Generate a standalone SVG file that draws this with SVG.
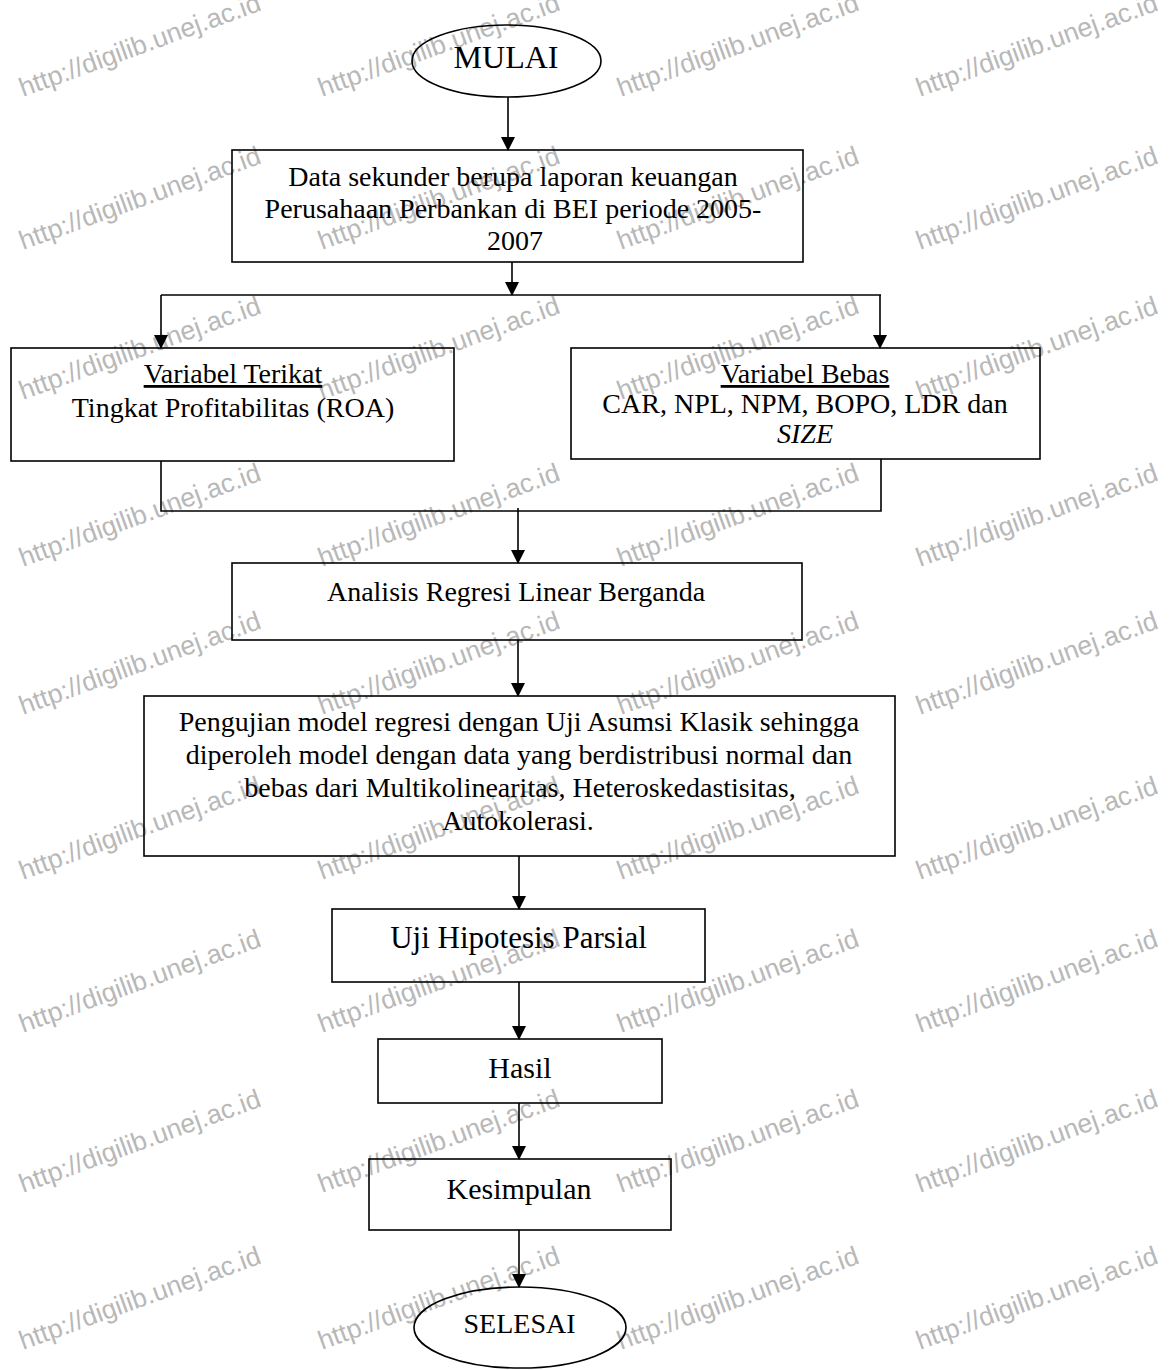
<svg xmlns="http://www.w3.org/2000/svg" width="1175" height="1370" viewBox="0 0 1175 1370">
<style>
.wm{font-family:"Liberation Sans",Arial,sans-serif;font-size:26.5px;fill:#b8b8b8}
.box{fill:none;stroke:#000;stroke-width:1.6}
.t{font-family:"Liberation Serif","Times New Roman",serif;font-size:28px;fill:#000;text-anchor:middle}
.big{font-size:30px}
.con{fill:none;stroke:#000;stroke-width:1.6}
.arr{marker-end:url(#ah)}
</style>
<defs>
<marker id="ah" markerUnits="userSpaceOnUse" markerWidth="14" markerHeight="14" refX="13" refY="7" orient="auto" viewBox="0 0 14 14">
<path d="M0,0 L14,7 L0,14 z" fill="#000"/>
</marker>
</defs>
<rect width="1175" height="1370" fill="#fff"/>
<g id="watermarks">
<text class="wm" x="23" y="97" transform="rotate(-20 23 97)">http://digilib.unej.ac.id</text>
<text class="wm" x="322" y="97" transform="rotate(-20 322 97)">http://digilib.unej.ac.id</text>
<text class="wm" x="621" y="97" transform="rotate(-20 621 97)">http://digilib.unej.ac.id</text>
<text class="wm" x="920" y="97" transform="rotate(-20 920 97)">http://digilib.unej.ac.id</text>
<text class="wm" x="23" y="250" transform="rotate(-20 23 250)">http://digilib.unej.ac.id</text>
<text class="wm" x="322" y="250" transform="rotate(-20 322 250)">http://digilib.unej.ac.id</text>
<text class="wm" x="621" y="250" transform="rotate(-20 621 250)">http://digilib.unej.ac.id</text>
<text class="wm" x="920" y="250" transform="rotate(-20 920 250)">http://digilib.unej.ac.id</text>
<text class="wm" x="23" y="400" transform="rotate(-20 23 400)">http://digilib.unej.ac.id</text>
<text class="wm" x="322" y="400" transform="rotate(-20 322 400)">http://digilib.unej.ac.id</text>
<text class="wm" x="621" y="400" transform="rotate(-20 621 400)">http://digilib.unej.ac.id</text>
<text class="wm" x="920" y="400" transform="rotate(-20 920 400)">http://digilib.unej.ac.id</text>
<text class="wm" x="23" y="567" transform="rotate(-20 23 567)">http://digilib.unej.ac.id</text>
<text class="wm" x="322" y="567" transform="rotate(-20 322 567)">http://digilib.unej.ac.id</text>
<text class="wm" x="621" y="567" transform="rotate(-20 621 567)">http://digilib.unej.ac.id</text>
<text class="wm" x="920" y="567" transform="rotate(-20 920 567)">http://digilib.unej.ac.id</text>
<text class="wm" x="23" y="715" transform="rotate(-20 23 715)">http://digilib.unej.ac.id</text>
<text class="wm" x="322" y="715" transform="rotate(-20 322 715)">http://digilib.unej.ac.id</text>
<text class="wm" x="621" y="715" transform="rotate(-20 621 715)">http://digilib.unej.ac.id</text>
<text class="wm" x="920" y="715" transform="rotate(-20 920 715)">http://digilib.unej.ac.id</text>
<text class="wm" x="23" y="880" transform="rotate(-20 23 880)">http://digilib.unej.ac.id</text>
<text class="wm" x="322" y="880" transform="rotate(-20 322 880)">http://digilib.unej.ac.id</text>
<text class="wm" x="621" y="880" transform="rotate(-20 621 880)">http://digilib.unej.ac.id</text>
<text class="wm" x="920" y="880" transform="rotate(-20 920 880)">http://digilib.unej.ac.id</text>
<text class="wm" x="23" y="1033" transform="rotate(-20 23 1033)">http://digilib.unej.ac.id</text>
<text class="wm" x="322" y="1033" transform="rotate(-20 322 1033)">http://digilib.unej.ac.id</text>
<text class="wm" x="621" y="1033" transform="rotate(-20 621 1033)">http://digilib.unej.ac.id</text>
<text class="wm" x="920" y="1033" transform="rotate(-20 920 1033)">http://digilib.unej.ac.id</text>
<text class="wm" x="23" y="1193" transform="rotate(-20 23 1193)">http://digilib.unej.ac.id</text>
<text class="wm" x="322" y="1193" transform="rotate(-20 322 1193)">http://digilib.unej.ac.id</text>
<text class="wm" x="621" y="1193" transform="rotate(-20 621 1193)">http://digilib.unej.ac.id</text>
<text class="wm" x="920" y="1193" transform="rotate(-20 920 1193)">http://digilib.unej.ac.id</text>
<text class="wm" x="23" y="1350" transform="rotate(-20 23 1350)">http://digilib.unej.ac.id</text>
<text class="wm" x="322" y="1350" transform="rotate(-20 322 1350)">http://digilib.unej.ac.id</text>
<text class="wm" x="621" y="1350" transform="rotate(-20 621 1350)">http://digilib.unej.ac.id</text>
<text class="wm" x="920" y="1350" transform="rotate(-20 920 1350)">http://digilib.unej.ac.id</text>
</g>
<g id="connectors">
<line class="con arr" x1="508" y1="97" x2="508" y2="150"/>
<line class="con arr" x1="512" y1="262" x2="512" y2="295"/>
<line class="con" x1="161" y1="295" x2="881" y2="295"/>
<line class="con arr" x1="161" y1="295" x2="161" y2="348"/>
<line class="con arr" x1="880" y1="295" x2="880" y2="348"/>
<polyline class="con" points="161,461 161,511 881,511 881,459"/>
<line class="con arr" x1="518" y1="508" x2="518" y2="563"/>
<line class="con arr" x1="518" y1="640" x2="518" y2="696"/>
<line class="con arr" x1="519" y1="856" x2="519" y2="909"/>
<line class="con arr" x1="519" y1="982" x2="519" y2="1039"/>
<line class="con arr" x1="519" y1="1103" x2="519" y2="1159"/>
<line class="con arr" x1="519" y1="1230" x2="519" y2="1287"/>
</g>
<g id="mulai">
<ellipse class="box" cx="506.5" cy="61" rx="94.5" ry="36"/>
<text class="t" x="506" y="68" style="font-size:32px">MULAI</text>
</g>
<g id="data">
<rect class="box" x="232" y="150" width="571" height="112"/>
<text class="t" x="513" y="186">Data sekunder berupa laporan keuangan</text>
<text class="t" x="513" y="218">Perusahaan Perbankan di BEI periode 2005-</text>
<text class="t" x="515" y="250">2007</text>
</g>
<g id="terikat">
<rect class="box" x="11" y="348" width="443" height="113"/>
<text class="t" x="233" y="383" text-decoration="underline">Variabel Terikat</text>
<text class="t" x="233" y="417">Tingkat Profitabilitas (ROA)</text>
</g>
<g id="bebas">
<rect class="box" x="571" y="348" width="469" height="111"/>
<text class="t" x="805" y="383" text-decoration="underline">Variabel Bebas</text>
<text class="t" x="805" y="413">CAR, NPL, NPM, BOPO, LDR dan</text>
<text class="t" x="805" y="443" font-style="italic">SIZE</text>
</g>
<g id="analisis">
<rect class="box" x="232" y="563" width="570" height="77"/>
<text class="t" x="516" y="601">Analisis Regresi Linear Berganda</text>
</g>
<g id="pengujian">
<rect class="box" x="144" y="696" width="751" height="160"/>
<text class="t" x="519" y="731">Pengujian model regresi dengan Uji Asumsi Klasik sehingga</text>
<text class="t" x="519" y="764">diperoleh model dengan data yang berdistribusi normal dan</text>
<text class="t" x="520" y="797">bebas dari Multikolinearitas, Heteroskedastisitas,</text>
<text class="t" x="518" y="830">Autokolerasi.</text>
</g>
<g id="uji">
<rect class="box" x="332" y="909" width="373" height="73"/>
<text class="t" x="518.5" y="948" style="font-size:31px">Uji Hipotesis Parsial</text>
</g>
<g id="hasil">
<rect class="box" x="378" y="1039" width="284" height="64"/>
<text class="t big" x="520" y="1078">Hasil</text>
</g>
<g id="kesimpulan">
<rect class="box" x="369" y="1159" width="302" height="71"/>
<text class="t big" x="519" y="1199">Kesimpulan</text>
</g>
<g id="selesai">
<ellipse class="box" cx="520" cy="1327.5" rx="106" ry="40.5"/>
<text class="t" x="519.5" y="1333">SELESAI</text>
</g>
</svg>
